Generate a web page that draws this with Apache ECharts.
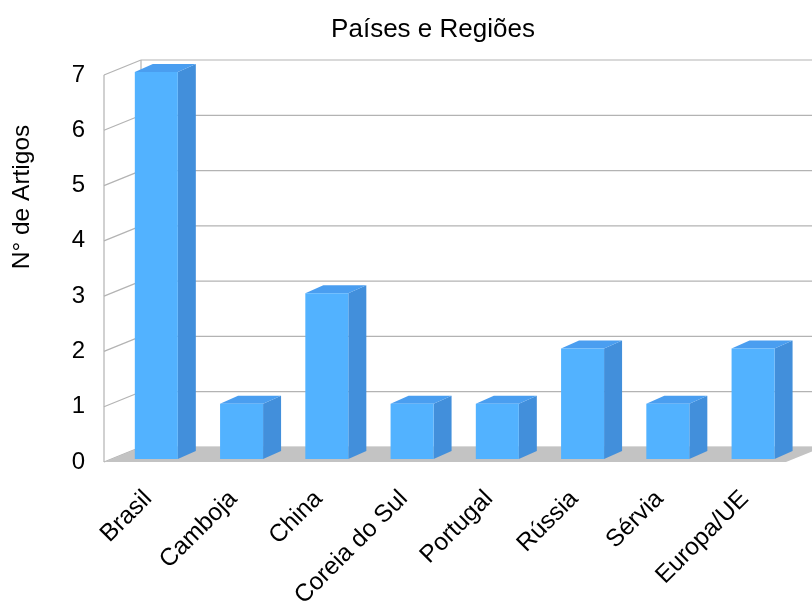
<!DOCTYPE html>
<html>
<head>
<meta charset="utf-8">
<title>Países e Regiões</title>
<script src="https://cdn.jsdelivr.net/npm/echarts@6/dist/echarts.min.js"></script>
<style>
  html, body { margin: 0; padding: 0; background: #ffffff; }
  #chart { width: 812px; height: 603px; }
</style>
</head>
<body>
<div id="chart"></div>
<script>
// Number of articles per country / region
const categories = ['Brasil', 'Camboja', 'China', 'Coreia do Sul', 'Portugal', 'Rússia', 'Sérvia', 'Europa/UE'];
const articles = [7, 1, 3, 1, 1, 2, 1, 2];
const yTicks = [0, 1, 2, 3, 4, 5, 6, 7];

const FONT = '"Liberation Sans", Arial, sans-serif';

// Oblique projection of the chart box: offset from front plane to back wall
const DEPTH_DX = 37, DEPTH_DY = -15;
// Front plane of the floor relative to the category axis position
const FRONT_DX = -1.5;
// Bar geometry (front face width, its offset from the front plane, bar depth)
const BAR_W = 43, BAR_FX = 8.2, BAR_FY = -3, BAR_DX = 18, BAR_DY = -8;

const chart = echarts.init(document.getElementById('chart'));

function frameItem(params, api) {
  const n = categories.length;
  const half = api.size([1, 0])[0] / 2;
  const left = api.coord([0, 0])[0] - half + FRONT_DX;
  const right = api.coord([n - 1, 0])[0] + half + FRONT_DX;
  const yOf = v => api.coord([0, v])[1];
  const lineStyle = { stroke: '#b3b3b3', lineWidth: 1.2 };
  const children = [];
  const top = yOf(yTicks[yTicks.length - 1]);
  const bottom = yOf(yTicks[0]);
  // left wall outline
  children.push({ type: 'line', shape: { x1: left, y1: bottom, x2: left, y2: top }, style: lineStyle });
  children.push({ type: 'line', shape: { x1: left + DEPTH_DX, y1: bottom + DEPTH_DY, x2: left + DEPTH_DX, y2: top + DEPTH_DY }, style: lineStyle });
  yTicks.forEach(v => {
    const y = yOf(v);
    // side wall diagonal
    children.push({ type: 'line', shape: { x1: left, y1: y, x2: left + DEPTH_DX, y2: y + DEPTH_DY }, style: lineStyle });
    // back wall grid line
    children.push({ type: 'line', shape: { x1: left + DEPTH_DX, y1: y + DEPTH_DY, x2: right + DEPTH_DX, y2: y + DEPTH_DY }, style: lineStyle });
  });
  // floor
  children.push({
    type: 'polygon',
    shape: { points: [[left, bottom], [right, bottom], [right + DEPTH_DX, bottom + DEPTH_DY], [left + DEPTH_DX, bottom + DEPTH_DY]] },
    style: { fill: '#c3c3c3' }
  });
  return { type: 'group', children: children };
}

function barItem(params, api) {
  const i = api.value(0), v = api.value(1);
  const base = api.coord([i, 0]);
  const topP = api.coord([i, v]);
  const cx = base[0] + BAR_FX;
  const yb = base[1] + BAR_FY;
  const yt = topP[1] + BAR_FY;
  const x0 = cx - BAR_W / 2, x1 = cx + BAR_W / 2;
  return {
    type: 'group',
    children: [
      { type: 'polygon', shape: { points: [[x1, yb], [x1 + BAR_DX, yb + BAR_DY], [x1 + BAR_DX, yt + BAR_DY], [x1, yt]] },
        style: { fill: '#428fdb' } },
      { type: 'polygon', shape: { points: [[x0, yt], [x1, yt], [x1 + BAR_DX, yt + BAR_DY], [x0 + BAR_DX, yt + BAR_DY]] },
        style: { fill: '#4a9ef0' } },
      { type: 'rect', shape: { x: x0, y: yt, width: BAR_W, height: yb - yt },
        style: { fill: '#52b2ff' } }
    ]
  };
}

chart.setOption({
  backgroundColor: '#ffffff',
  animation: false,
  title: {
    text: 'Países e Regiões',
    left: 428,
    top: 12,
    textAlign: 'center',
    textStyle: { fontFamily: FONT, fontSize: 26, fontWeight: 'normal', color: '#000000' }
  },
  graphic: [{
    type: 'text',
    x: 22.5,
    y: 197,
    rotation: Math.PI / 2,
    style: {
      text: 'N° de Artigos',
      font: '24.5px ' + FONT,
      fill: '#000000',
      textAlign: 'center',
      textVerticalAlign: 'middle'
    }
  }],
  grid: { left: 105.5, right: 24.5, top: 75, bottom: 141, containLabel: false, outerBoundsMode: 'none' },
  xAxis: {
    type: 'category',
    data: categories,
    axisLine: { show: false },
    axisTick: { show: false },
    axisLabel: {
      rotate: 45,
      margin: 33,
      interval: 0,
      fontFamily: FONT,
      fontSize: 24.5,
      color: '#000000'
    }
  },
  yAxis: {
    type: 'value',
    min: 0,
    max: 7,
    interval: 1,
    axisLine: { show: false },
    axisTick: { show: false },
    splitLine: { show: false },
    axisLabel: {
      margin: 20.5,
      fontFamily: FONT,
      fontSize: 24,
      color: '#000000'
    }
  },
  series: [
    {
      type: 'custom',
      renderItem: frameItem,
      data: [[0, 0]],
      clip: false,
      silent: true,
      z: 1
    },
    {
      type: 'custom',
      renderItem: barItem,
      data: articles.map((v, i) => [i, v]),
      clip: false,
      z: 2
    }
  ]
});
</script>
</body>
</html>
